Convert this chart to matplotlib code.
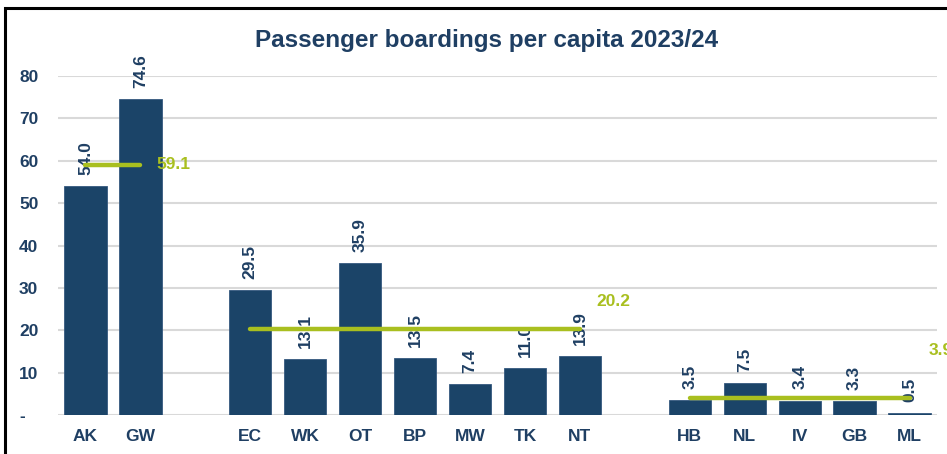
import matplotlib.pyplot as plt
from matplotlib.patches import Rectangle

# Data
regions = ["AK", "GW", "", "EC", "WK", "OT", "BP", "MW", "TK", "NT", "", "HB", "NL", "IV", "GB", "ML"]
boardings = [54.0, 74.6, None, 29.5, 13.1, 35.9, 13.5, 7.4, 11.0, 13.9, None, 3.5, 7.5, 3.4, 3.3, 0.5]

# group averages: (first region, last region, average)
group_avgs = [("AK", "GW", 59.1), ("EC", "NT", 20.2), ("HB", "ML", 3.9)]
# where each average label sits (x position, y value)
avg_label_pos = [(1.3, 59.1), (9.3, 26.8), (15.35, 15.2)]

y_ticks = [0, 10, 20, 30, 40, 50, 60, 70, 80]
y_tick_labels = ["-", "10", "20", "30", "40", "50", "60", "70", "80"]

NAVY = "#1B4468"
TEXT = "#1F3F63"
GREEN = "#A9BF1F"
GRID = "#D9D9D9"

plt.rcParams["font.family"] = ["Liberation Sans", "DejaVu Sans"]

fig = plt.figure(figsize=(9.47, 4.54), dpi=100, facecolor="white")
ax = fig.add_axes([58 / 947, 39 / 454, 879 / 947, 339 / 454])

x = list(range(len(regions)))
xs = [i for i, v in zip(x, boardings) if v is not None]
vals = [v for v in boardings if v is not None]

ax.bar(xs, vals, width=0.77, color=NAVY, edgecolor="#35597F", linewidth=0.6, zorder=2)

# value labels, rotated
for xi, v in zip(xs, vals):
    ax.annotate(f"{v:.1f}", (xi, v), xytext=(0, 8), textcoords="offset points",
                rotation=90, ha="center", va="bottom", fontsize=12.5,
                fontweight="bold", color=TEXT, zorder=3)

# group average lines (drawn over the value labels)
for (first, last, avg), (lx, ly) in zip(group_avgs, avg_label_pos):
    x0 = regions.index(first)
    x1 = regions.index(last)
    ax.plot([x0, x1], [avg, avg], color=GREEN, linewidth=3.2,
            solid_capstyle="round", zorder=4)
    ax.text(lx, ly, f"{avg:.1f}", color=GREEN, fontsize=12.5, fontweight="bold",
            ha="left", va="center", clip_on=False, zorder=5)

ax.set_xlim(-0.5, len(regions) - 0.5)
ax.set_ylim(0, 80)
ax.set_xticks(x)
ax.set_xticklabels(regions, fontsize=12.5, fontweight="bold", color=TEXT)
ax.set_yticks(y_ticks)
ax.set_yticklabels(y_tick_labels, fontsize=12.5, fontweight="bold", color=TEXT)
ax.tick_params(axis="both", length=0)
ax.tick_params(axis="x", pad=10)
ax.tick_params(axis="y", pad=28)
for lbl in ax.get_yticklabels():
    lbl.set_horizontalalignment("left")

ax.yaxis.grid(True, color=GRID, linewidth=1.5, zorder=0)
ax.set_axisbelow(True)
for s in ax.spines.values():
    s.set_visible(False)

fig.text(487 / 947, 1 - 40 / 454, "Passenger boardings per capita 2023/24",
         ha="center", va="center", fontsize=17.5, fontweight="bold", color=TEXT)

# outer chart border (runs off the right and bottom edges)
fig.patches.append(Rectangle((5 / 947, -0.2), 1.2, 1.2 - 8 / 454,
                             transform=fig.transFigure, fill=False,
                             edgecolor="black", linewidth=2.2, zorder=10))

fig.savefig("out.png", dpi=100, facecolor="white")
